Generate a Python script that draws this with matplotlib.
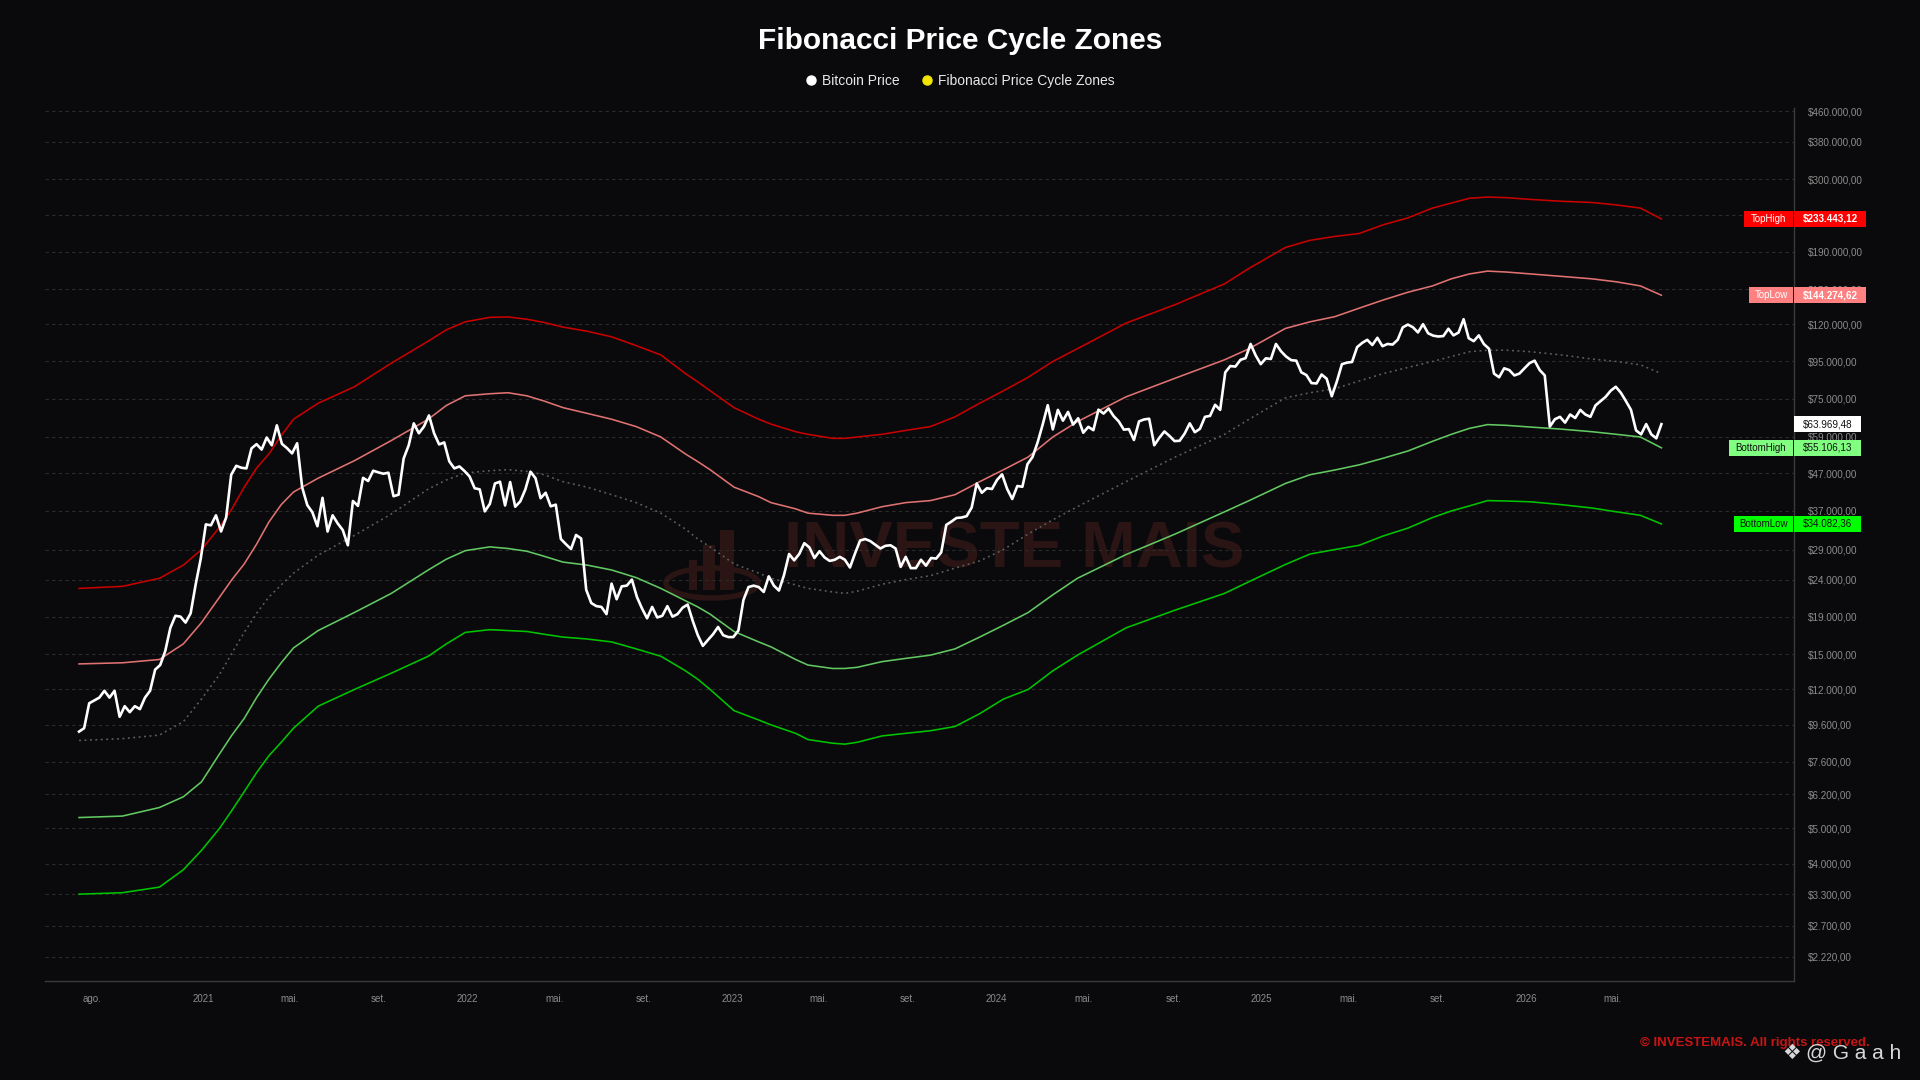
import numpy as np
import pandas as pd
import matplotlib
matplotlib.use("Agg")
import matplotlib.pyplot as plt
from matplotlib import patches, transforms
from matplotlib.lines import Line2D
from matplotlib.ticker import FixedLocator, NullLocator

plt.rcParams['font.family'] = ['Liberation Sans', 'DejaVu Sans']

# Bitcoin weekly closes, USD thousands, one value per week from price_start
price_start = "2020-07-14"
btc_k = [
    # 2020
    9.2, 9.4, 11.0, 11.2, 11.4, 11.9, 11.4, 11.9, 10.1, 10.8, 10.4, 10.8, 10.6,
    11.4, 11.9, 13.6, 14.0, 15.3, 17.7, 19.1, 19.0, 18.3, 19.4, 23.3, 27.4,
    # 2021
    34.0, 33.8, 36.0, 32.5, 35.5, 46.5, 49.2, 48.6, 48.4, 54.9, 56.4, 54.5, 58.8,
    56.0, 63.5, 56.5, 55.0, 53.2, 56.7, 42.9, 38.4, 36.7, 33.6, 40.2, 32.5, 36.0,
    34.2, 32.8, 29.8, 39.4, 38.2, 45.6, 44.7, 47.7, 47.2, 46.8, 47.1, 40.6, 41.0,
    51.5, 56.0, 64.3, 60.4, 63.0, 67.6, 60.4, 56.3, 57.0, 50.6, 48.4, 49.0, 47.6,
    # 2022
    46.0, 42.7, 42.4, 36.9, 38.7, 44.0, 44.5, 38.3, 44.4, 38.0, 39.3, 42.4, 47.4,
    45.5, 40.1, 41.5, 38.1, 38.5, 31.0, 30.0, 29.1, 31.8, 31.1, 22.5, 20.7, 20.3,
    20.2, 19.3, 23.4, 21.2, 23.0, 23.1, 24.0, 21.5, 20.0, 18.8, 20.2, 18.9, 19.1,
    20.3, 19.0, 19.3, 20.1, 20.5, 18.5, 16.9, 15.8, 16.4, 17.0, 17.8, 16.9, 16.7,
    # 2023
    16.7, 17.4, 21.1, 22.9, 23.1, 22.9, 22.2, 24.5, 23.1, 22.4, 24.7, 28.2, 27.1,
    28.2, 30.2, 29.4, 27.5, 28.7, 27.6, 27.0, 27.2, 27.7, 27.2, 25.9, 28.3, 30.7,
    31.0, 30.6, 29.9, 29.2, 29.7, 29.8, 29.2, 26.0, 27.7, 25.8, 25.8, 27.2, 26.2,
    27.5, 27.4, 28.5, 33.9, 34.6, 35.4, 35.5, 35.8, 37.8, 44.0, 41.5, 42.7, 42.5,
    # 2024
    45.0, 46.6, 42.5, 39.9, 43.3, 43.1, 49.7, 52.0, 57.0, 63.8, 72.1, 61.9, 70.0,
    65.4, 69.1, 63.8, 66.4, 60.6, 62.9, 61.6, 70.1, 68.4, 70.6, 67.3, 65.1, 61.8,
    62.0, 57.9, 65.1, 65.9, 66.2, 56.0, 58.7, 61.1, 59.4, 57.5, 57.6, 60.3, 64.3,
    60.8, 62.1, 67.0, 67.4, 72.3, 70.0, 88.7, 92.3, 92.0, 96.0, 97.0, 106.1, 98.7,
    93.4,
    # 2025
    96.9, 96.5, 106.1, 101.3, 98.0, 95.8, 95.5, 88.7, 87.2, 82.9, 82.7, 87.5,
    85.2, 76.3, 83.7, 93.4, 94.3, 94.7, 104.0, 106.8, 108.9, 105.4, 110.3, 104.6,
    106.1, 105.7, 108.9, 117.8, 119.9, 117.9, 114.1, 120.2, 113.5, 111.8, 111.2,
    111.5, 116.8, 112.0, 114.0, 124.0, 110.0, 108.0, 112.0, 106.0, 103.0, 88.0,
    86.0, 91.0, 90.0, 87.0, 88.0, 91.0,
    # 2026
    94.0, 95.5, 90.0, 87.0, 63.0, 66.0, 67.0, 64.6, 68.0, 66.5, 70.0, 68.0, 67.0,
    72.0, 74.0, 76.0, 79.0, 81.0, 78.0, 74.0, 70.0, 61.5, 60.0, 64.0, 60.0, 58.5,
    63.96948,
]

# Fibonacci cycle bands, USD thousands
band_dates = [
    "2020-07-14", "2020-09-12", "2020-11-02", "2020-12-05", "2020-12-30",
    "2021-01-24", "2021-02-10", "2021-02-27", "2021-03-16", "2021-04-02",
    "2021-04-19", "2021-05-06", "2021-06-09", "2021-07-29", "2021-09-18",
    "2021-11-08", "2021-12-03", "2021-12-29", "2022-02-01", "2022-02-26",
    "2022-03-24", "2022-04-17", "2022-05-13", "2022-06-15", "2022-07-19",
    "2022-08-22", "2022-09-25", "2022-10-29", "2022-11-15", "2022-12-02",
    "2023-01-04", "2023-02-07", "2023-02-24", "2023-03-30", "2023-04-16",
    "2023-05-20", "2023-06-06", "2023-06-23", "2023-07-27", "2023-08-29",
    "2023-10-02", "2023-11-05", "2023-12-09", "2024-01-11", "2024-02-14",
    "2024-03-19", "2024-04-22", "2024-06-28", "2024-09-04", "2024-11-11",
    "2024-12-15", "2025-02-03", "2025-03-09", "2025-04-12", "2025-05-16",
    "2025-06-18", "2025-07-22", "2025-08-25", "2025-09-20", "2025-10-15",
    "2025-11-09", "2025-12-05", "2026-01-08", "2026-02-19", "2026-04-02",
    "2026-05-06", "2026-06-08", "2026-07-07",
]
top_high_k = [
    22.7, 23.0, 24.2, 26.3, 29.0, 33.4, 37.5, 43.0, 48.5, 53.0,
    59.5, 66.0, 73.0, 81.0, 94.0, 108.0, 116.0, 122.0, 125.5, 125.8,
    124.0, 121.5, 118.0, 115.0, 111.0, 105.0, 99.0, 88.0, 83.5, 79.0,
    71.0, 66.0, 64.0, 61.0, 60.0, 58.5, 58.5, 59.0, 60.0, 61.5,
    63.0, 67.0, 73.0, 79.0, 86.0, 95.0, 103.0, 121.0, 136.0, 155.0,
    171.0, 195.0, 204.0, 209.0, 213.0, 225.0, 235.0, 250.0, 258.0, 266.0,
    268.0, 267.0, 264.0, 261.0, 259.0, 255.0, 250.0, 233.44312,
]
top_low_k = [
    14.1, 14.2, 14.5, 16.0, 18.3, 21.5, 24.0, 26.5, 30.0, 34.5,
    38.5, 41.7, 45.5, 50.8, 57.7, 66.0, 72.0, 76.5, 77.5, 78.0,
    76.5, 74.0, 71.0, 68.5, 66.0, 63.0, 59.0, 53.0, 50.5, 48.0,
    43.0, 40.5, 39.0, 37.5, 36.5, 36.0, 36.0, 36.5, 38.0, 39.0,
    39.5, 41.0, 44.5, 48.0, 52.0, 59.0, 65.0, 76.0, 85.5, 96.0,
    103.0, 117.0, 122.0, 126.0, 133.0, 140.0, 147.0, 153.0, 160.0, 165.0,
    168.0, 167.0, 165.0, 162.5, 160.0, 157.0, 153.0, 144.27462,
]
middle_k = [
    8.7, 8.8, 9.0, 9.8, 11.3, 13.2, 15.1, 17.2, 19.4, 21.5,
    23.2, 25.0, 28.0, 31.7, 36.3, 42.5, 45.0, 47.0, 47.7, 48.0,
    47.5, 46.5, 44.5, 43.0, 41.0, 39.0, 36.5, 33.0, 31.0, 29.5,
    26.5, 25.0, 24.2, 23.2, 22.7, 22.2, 22.0, 22.3, 23.3, 24.0,
    24.6, 25.8, 27.0, 29.0, 32.0, 35.0, 38.0, 44.5, 52.0, 60.0,
    66.0, 75.5, 78.0, 80.0, 84.0, 88.0, 91.5, 95.0, 98.0, 101.0,
    102.0, 102.0, 101.0, 99.0, 96.5, 95.0, 93.0, 88.0,
]
bottom_high_k = [
    5.35, 5.4, 5.7, 6.1, 6.7, 8.0, 9.0, 10.0, 11.4, 12.8,
    14.2, 15.6, 17.4, 19.5, 22.0, 25.5, 27.3, 28.8, 29.5, 29.2,
    28.7, 27.8, 26.8, 26.3, 25.5, 24.3, 22.7, 21.0, 20.2, 19.3,
    17.3, 16.2, 15.7, 14.5, 14.0, 13.7, 13.7, 13.8, 14.3, 14.6,
    14.9, 15.5, 16.7, 18.0, 19.5, 21.8, 24.2, 28.1, 32.0, 36.8,
    39.5, 44.0, 46.5, 47.9, 49.5, 51.6, 54.0, 57.4, 60.0, 62.3,
    63.8, 63.5, 62.8, 62.0, 61.0, 60.0, 59.0, 55.10613,
]
bottom_low_k = [
    3.3, 3.33, 3.45, 3.85, 4.35, 5.0, 5.6, 6.3, 7.1, 7.9,
    8.6, 9.4, 10.8, 12.0, 13.3, 14.8, 16.0, 17.2, 17.5, 17.4,
    17.3, 17.0, 16.7, 16.5, 16.2, 15.5, 14.8, 13.5, 12.8, 12.0,
    10.5, 9.9, 9.6, 9.1, 8.75, 8.55, 8.5, 8.6, 8.95, 9.1,
    9.25, 9.5, 10.3, 11.3, 12.0, 13.5, 14.9, 17.7, 19.8, 22.0,
    23.7, 26.4, 28.2, 29.0, 29.8, 31.6, 33.2, 35.5, 37.0, 38.2,
    39.5, 39.4, 39.2, 38.5, 37.7, 36.8, 36.0, 34.08236,
]

y_ticks = [2220, 2700, 3300, 4000, 5000, 6200, 7600, 9600, 12000, 15000,
           19000, 24000, 29000, 37000, 47000, 59000, 75000, 95000, 120000,
           150000, 190000, 240000, 300000, 380000, 460000]
x_tick_dates = ["2020-08-01", "2021-01-01", "2021-05-01", "2021-09-01",
                "2022-01-01", "2022-05-01", "2022-09-01", "2023-01-01",
                "2023-05-01", "2023-09-01", "2024-01-01", "2024-05-01",
                "2024-09-01", "2025-01-01", "2025-05-01", "2025-09-01",
                "2026-01-01", "2026-05-01"]
x_tick_labels = ["ago.", "2021", "mai.", "set.", "2022", "mai.", "set.", "2023",
                 "mai.", "set.", "2024", "mai.", "set.", "2025", "mai.", "set.",
                 "2026", "mai."]

BG = "#0a0a0c"


def brl(v):
    s = f"${v:,.2f}"
    return s.replace(",", "X").replace(".", ",").replace("X", ".")


fig = plt.figure(figsize=(19.2, 10.8), dpi=100, facecolor=BG)
ax_pos = [45 / 1920, 99 / 1080, 1749 / 1920, 873 / 1080]
ax = fig.add_axes(ax_pos, facecolor=BG)

price_dates = pd.date_range(price_start, periods=len(btc_k), freq="7D")
price = np.array(btc_k) * 1000
bd = pd.to_datetime(band_dates)
bands = [
    ("TopHigh", np.array(top_high_k) * 1000, "#c80000", "-", "#ff0000", "white"),
    ("TopLow", np.array(top_low_k) * 1000, "#e07272", "-", "#ff8080", "white"),
    ("Middle", np.array(middle_k) * 1000, "#5e5e5e", (0, (1.2, 2.2)), None, None),
    ("BottomHigh", np.array(bottom_high_k) * 1000, "#62c862", "-", "#80ff80", "#111111"),
    ("BottomLow", np.array(bottom_low_k) * 1000, "#00c400", "-", "#00ff00", "#111111"),
]

for name, vals, col, ls, _, _ in bands:
    ax.plot(bd, vals, color=col, lw=1.15, ls=ls, zorder=3,
            solid_joinstyle="round")
ax.plot(price_dates, price, color="white", lw=1.9, zorder=5)

ax.set_yscale("log")
ymin, ymax = 1908, 470000
ax.set_ylim(ymin, ymax)
ax.set_xlim(pd.Timestamp("2020-05-28"), pd.Timestamp("2027-01-06"))

ax.yaxis.tick_right()
ax.yaxis.set_major_locator(FixedLocator(y_ticks))
ax.yaxis.set_minor_locator(NullLocator())
ax.set_yticklabels([brl(v) for v in y_ticks])
ax.set_xticks(pd.to_datetime(x_tick_dates))
ax.set_xticklabels(x_tick_labels)
ax.tick_params(axis="y", length=0, pad=10, labelsize=7.1, labelcolor="#8c8c8c")
ax.tick_params(axis="x", length=0, pad=9, labelsize=7, labelcolor="#8c8c8c")
ax.yaxis.grid(True, color="#2c2c2c", lw=0.8, ls=(0, (3, 3)))
ax.xaxis.grid(False)
for side in ("left", "top"):
    ax.spines[side].set_visible(False)
for side in ("bottom", "right"):
    ax.spines[side].set_color("#3a3a3a")
    ax.spines[side].set_linewidth(1.0)

# tags on the price scale
ax_w_px = fig.get_figwidth() * fig.dpi * ax_pos[2]
ax_h_px = fig.get_figheight() * fig.dpi * ax_pos[3]
px_per_dec = ax_h_px / (np.log10(ymax) - np.log10(ymin))
k = 10 ** (8 / px_per_dec)
trans = transforms.blended_transform_factory(ax.transAxes, ax.transData)


def tag_box(x0, w_px, y, face):
    r = patches.Rectangle((x0, y / k), w_px / ax_w_px, y * k - y / k,
                          transform=trans, facecolor=face, edgecolor="none",
                          clip_on=False, zorder=20)
    ax.add_patch(r)


def value_tag(y, face, txt_col, weight="normal"):
    s = brl(y)
    w = 14 + 5.3 * len(s)
    tag_box(1.0, w, y, face)
    ax.text(1.0 + 9 / ax_w_px, y, s, transform=trans, ha="left", va="center",
            fontsize=7.1, color=txt_col, fontweight=weight, clip_on=False, zorder=21)


def name_tag(y, name, face, txt_col):
    w = 14 + 5 * len(name)
    x0 = 1.0 - (w + 1) / ax_w_px
    tag_box(x0, w, y, face)
    ax.text(x0 + w / 2 / ax_w_px, y, name, transform=trans, ha="center", va="center",
            fontsize=7, color=txt_col, clip_on=False, zorder=21)


for name, vals, col, ls, face, txt_col in bands:
    if face is None:
        continue
    name_tag(vals[-1], name, face, txt_col)
    value_tag(vals[-1], face, txt_col, "bold" if txt_col == "white" else "normal")
value_tag(price[-1], "white", "#111111")

# watermark
ax.text(0.528, 0.49, "INVESTE MAIS", transform=fig.transFigure, ha="center",
        va="center", fontsize=47, fontweight="bold", color="#2a1414", zorder=1)
for bx, bw, bh in [(689, 8, 30), (703, 12, 45), (720, 14, 60)]:
    ax.add_patch(patches.Rectangle((bx / 1920, 1 - 590 / 1080), bw / 1920, bh / 1080,
                                   transform=fig.transFigure, facecolor="#2a1414",
                                   edgecolor="none", zorder=1))
ax.add_patch(patches.Ellipse((712 / 1920, 1 - 583 / 1080), 92 / 1920, 30 / 1080,
                             transform=fig.transFigure, facecolor="none",
                             edgecolor="#2a1414", lw=4, zorder=1))

fig.text(0.5, 1 - 41 / 1080, "Fibonacci Price Cycle Zones", ha="center", va="center",
         fontsize=21.5, fontweight="bold", color="white")

handles = [Line2D([], [], ls="none", marker="o", ms=6.5, color="white"),
           Line2D([], [], ls="none", marker="o", ms=6.5, color="#f2e600")]
fig.legend(handles, ["Bitcoin Price", "Fibonacci Price Cycle Zones"],
           loc="center", bbox_to_anchor=(0.5, 1 - 81 / 1080), ncol=2,
           frameon=False, fontsize=10, labelcolor="#e8e8e8", handlelength=0.8,
           handletextpad=0.4, columnspacing=1.6)

fig.text(1870 / 1920, 1 - 1043 / 1080, "\u00a9 INVESTEMAIS. All rights reserved.",
         ha="right", va="center", fontsize=9.5, fontweight="bold", color="#c81414")
fig.text(1792 / 1920, 1 - 1053 / 1080, "\u2756", ha="center", va="center",
         fontsize=15, color="#d8d8d8", family="DejaVu Sans")
fig.text(1806 / 1920, 1 - 1053 / 1080, "@ G a a h", ha="left", va="center",
         fontsize=15, color="#d8d8d8")

fig.savefig("out.png", dpi=100, facecolor=BG)
